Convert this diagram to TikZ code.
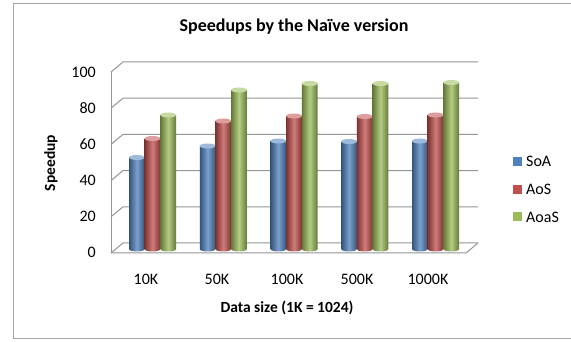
\documentclass[tikz,border=0pt]{standalone}
\usepackage{fontspec}
\setmainfont{Carlito}
\definecolor{sblue}{HTML}{4F81BD}
\definecolor{sred}{HTML}{C0504D}
\definecolor{sgreen}{HTML}{9BBB59}
\definecolor{gridc}{HTML}{959595}
\definecolor{framec}{HTML}{A6A6A6}
\newcommand\cyl[3]{%
  \shade[left color=#3!65!black, right color=#3!65!black, middle color=#3!75!white]
    (#1,-#2) -- (#1,-249) arc[start angle=180,end angle=360,x radius=7.85,y radius=2.5]
    -- (#1+15.7,-#2) -- cycle;
  \fill[#3!55!white] (#1+7.85,-#2) ellipse[x radius=7.85,y radius=2.5];
}
\newcommand\grp[4]{%
  \cyl{#1}{#2}{sblue}
  \cyl{#1+15.7}{#3}{sred}
  \cyl{#1+31.4}{#4}{sgreen}
}
\begin{document}
\begin{tikzpicture}[x=1pt,y=1pt,
  tick/.style={font=\fontsize{16}{18}\selectfont, inner sep=0pt},
  axtitle/.style={font=\fontsize{15.5}{17}\selectfont\bfseries, inner sep=0pt},
  grid/.style={draw=gridc, line width=1pt},
  legbox/.style={inner sep=0pt, minimum size=9pt}]
\useasboundingbox (0,0) rectangle (571,-342);
\fill[white] (0,0) rectangle (571,-342);
% outer frame
\draw[framec, line width=1pt] (580,-3.5) -- (13.5,-3.5) -- (13.5,-338.5) -- (580,-338.5);
% walls
\foreach \v in {0,...,5}{
  \pgfmathsetmacro\yb{243-36.2*\v}
  \draw[grid] (111,-\yb-10) -- (123,-\yb) -- (478,-\yb);
}
\draw[grid] (111,-72) -- (111,-253);
\draw[grid] (111,-253) -- (466,-253) -- (478,-243);
% bars
\grp{129}{157.5}{138.5}{115}
\grp{199.75}{146}{121}{90}
\grp{270.5}{141}{116}{83.5}
\grp{341.25}{141.5}{116.5}{83.5}
\grp{412}{141}{115}{82.5}
% y tick labels
\node[tick, anchor=east] (y0) at (96,-252) {0};
\node[tick, anchor=east] (y20) at (96,-216) {20};
\node[tick, anchor=east] (y40) at (96,-180) {40};
\node[tick, anchor=east] (y60) at (96,-144) {60};
\node[tick, anchor=east] (y80) at (96,-108) {80};
\node[tick, anchor=east] (y100) at (96,-72) {100};
% x tick labels
\node[tick] (x1) at (146,-279) {10K};
\node[tick] (x2) at (217,-279) {50K};
\node[tick] (x3) at (287,-279) {100K};
\node[tick] (x4) at (357,-279) {500K};
\node[tick] (x5) at (428,-279) {1000K};
% titles
\node[font=\fontsize{18}{20}\selectfont\bfseries, inner sep=0pt] (title) at (294,-27) {Speedups by the Naïve version};
\node[axtitle] (xtitle) at (287,-308) {Data size (1K = 1024)};
\node[axtitle, rotate=90] (ytitle) at (51,-163) {Speedup};
% legend
\node[legbox, fill=sblue] (l1) at (517.5,-161.5) {};
\node[tick, anchor=west] (t1) at (526,-161.5) {SoA};
\node[legbox, fill=sred] (l2) at (517.5,-189.5) {};
\node[tick, anchor=west] (t2) at (526,-189.5) {AoS};
\node[legbox, fill=sgreen] (l3) at (517.5,-217) {};
\node[tick, anchor=west] (t3) at (526,-217) {AoaS};
\end{tikzpicture}
\end{document}
